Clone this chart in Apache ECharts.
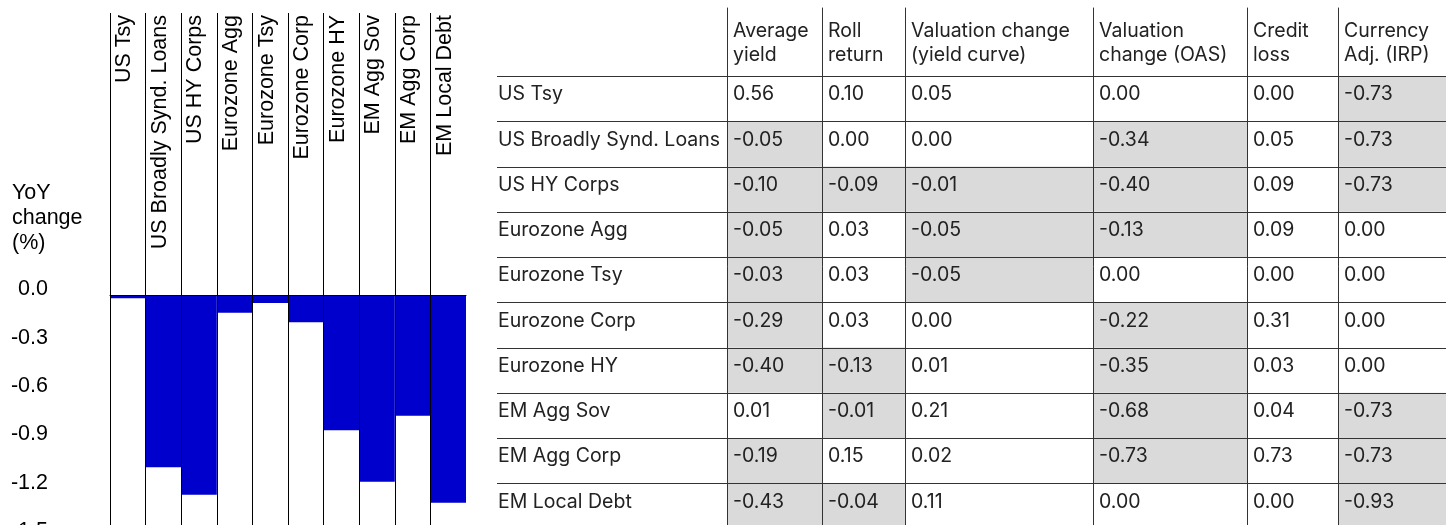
<!DOCTYPE html>
<html>
<head>
<meta charset="utf-8">
<title>YoY change by component</title>
<script src="https://cdn.jsdelivr.net/npm/echarts@6/dist/echarts.min.js"></script>
<style>
  html, body { margin: 0; padding: 0; background: #fff; }
  #chart { width: 1454px; height: 525px; }
</style>
</head>
<body>
<div id="chart"></div>
<script>
// Asset classes (bar columns and table rows)
const categories = ['US Tsy', 'US Broadly Synd. Loans', 'US HY Corps', 'Eurozone Agg', 'Eurozone Tsy',
    'Eurozone Corp', 'Eurozone HY', 'EM Agg Sov', 'EM Agg Corp', 'EM Local Debt'];

// YoY change (%) per asset class
const yoyChange = [-0.02, -1.07, -1.24, -0.11, -0.05, -0.17, -0.84, -1.16, -0.75, -1.29];

// Value axis range of the bar chart
const yMin = -1.5;
const yMax = 0;
const yStep = 0.3;

// Table columns
const columnHeaders = ['', 'Average\nyield', 'Roll\nreturn', 'Valuation change\n(yield curve)',
    'Valuation\nchange (OAS)', 'Credit\nloss', 'Currency\nAdj. (IRP)'];
const averageYield = [0.56, -0.05, -0.10, -0.05, -0.03, -0.29, -0.40, 0.01, -0.19, -0.43];
const rollReturn = [0.10, 0.00, -0.09, 0.03, 0.03, 0.03, -0.13, -0.01, 0.15, -0.04];
const valuationCurve = [0.05, 0.00, -0.01, -0.05, -0.05, 0.00, 0.01, 0.21, 0.02, 0.11];
const valuationOAS = [0.00, -0.34, -0.40, -0.13, 0.00, -0.22, -0.35, -0.68, -0.73, 0.00];
const creditLoss = [0.00, 0.05, 0.09, 0.09, 0.00, 0.31, 0.03, 0.04, 0.73, 0.00];
const currencyAdj = [-0.73, -0.73, -0.73, 0.00, 0.00, 0.00, 0.00, -0.73, -0.73, -0.93];
const tableColumns = [averageYield, rollReturn, valuationCurve, valuationOAS, creditLoss, currencyAdj];

// Layout
const chartLeft = 110;
const chartWidth = 356;
const labelTop = 13;
const zeroY = 295;
const pxPerUnit = 161;
const tableLeft = 497;
const tableTop = 8;
const tableHeaderH = 68;
const headerTextTop = 19;
const rowH = 45.25;
const colWidths = [230, 95, 83, 188, 154, 91, 108];

// Styles
const chartFont = '"Liberation Sans", Arial, sans-serif';
const chartFontSize = 21.5;
const tableFont = 'Inter, Roboto, sans-serif';
const tableFontSize = 19.5;
const tableText = '#222';
const tableLine = '#333';
const shadeColor = '#dadada';
const barColor = '#0000cd';

// one colour per column divider, the last (right edge) hidden
const dividerColors = categories.map(() => '#000').concat(['rgba(0,0,0,0)']);

const grids = [];
const xAxes = [];
const yAxes = [];
const series = [];

// Grid 0: rotated category labels above the zero line
grids.push({ left: chartLeft, top: labelTop, width: chartWidth, height: zeroY - labelTop, outerBoundsMode: 'none' });
xAxes.push({
    gridIndex: 0,
    type: 'category',
    data: categories,
    position: 'top',
    z: 3,
    axisLine: { show: false },
    axisTick: { show: false },
    axisLabel: {
        inside: true,
        rotate: 90,
        interval: 0,
        margin: 2,
        color: '#000',
        fontFamily: chartFont,
        fontSize: chartFontSize,
        // extra bottom padding nudges the rotated text a little to the left
        formatter: (v) => '{c|' + v + '}',
        rich: {
            c: {
                color: '#000',
                fontFamily: chartFont,
                fontSize: chartFontSize,
                padding: [0, 0, 7, 0]
            }
        }
    },
    splitLine: { show: true, interval: 0, showMaxLine: false, lineStyle: { color: dividerColors, width: 1 } }
});
yAxes.push({ gridIndex: 0, type: 'value', show: false, min: 0, max: 1 });

// Grid 1: the bars
grids.push({ left: chartLeft, top: zeroY, width: chartWidth, height: (yMax - yMin) * pxPerUnit, outerBoundsMode: 'none' });
xAxes.push({
    gridIndex: 1,
    type: 'category',
    data: categories,
    position: 'top',
    z: 3,
    axisLine: { show: true, onZero: false, lineStyle: { color: '#000', width: 1 } },
    axisTick: { show: false },
    axisLabel: { show: false, interval: 0 },
    splitLine: { show: true, interval: 0, showMaxLine: false, lineStyle: { color: dividerColors, width: 1 } }
});
yAxes.push({
    gridIndex: 1,
    type: 'value',
    min: yMin,
    max: yMax,
    interval: yStep,
    axisLine: { show: false },
    axisTick: { show: false },
    splitLine: { show: false },
    axisLabel: {
        margin: 62,
        verticalAlign: 'bottom',
        lineHeight: 11,
        color: '#000',
        fontFamily: chartFont,
        fontSize: chartFontSize,
        formatter: (v) => v.toFixed(1)
    }
});
series.push({
    type: 'bar',
    xAxisIndex: 1,
    yAxisIndex: 1,
    data: yoyChange,
    barWidth: '100%',
    itemStyle: { color: barColor },
    silent: true
});

// Table cell renderer for column j (0 = row labels)
const cellRenderer = (j) => (params, api) => {
    const row = api.value(1);
    const cs = params.coordSys;
    const yTop = api.coord([0, row])[1];
    const yBot = api.coord([0, row + 1])[1];
    const children = [];
    let text;
    if (j === 0) {
        text = categories[row];
    } else {
        const v = tableColumns[j - 1][row];
        text = v.toFixed(2);
        if (v < 0) {
            children.push({
                type: 'rect',
                shape: { x: cs.x, y: yTop, width: cs.width, height: yBot - yTop },
                style: { fill: shadeColor }
            });
        }
    }
    const lines = [yTop];
    if (row === categories.length - 1) lines.push(yBot);
    lines.forEach((y) => {
        const ly = Math.round(y) + 0.5;
        children.push({
            type: 'line',
            shape: { x1: cs.x, y1: ly, x2: cs.x + cs.width, y2: ly },
            style: { stroke: tableLine, lineWidth: 1 }
        });
    });
    children.push({
        type: 'text',
        x: cs.x + (j === 0 ? 1 : 6),
        y: (yTop + yBot) / 2 - 4,
        style: {
            text: text,
            fill: tableText,
            font: tableFontSize + 'px ' + tableFont,
            align: 'left',
            verticalAlign: 'middle'
        }
    });
    return { type: 'group', children: children };
};

// Table: one grid per column
let colX = tableLeft;
colWidths.forEach((w, j) => {
    const gi = grids.length;
    grids.push({ left: colX, top: tableTop, width: w, height: tableHeaderH + rowH * categories.length, outerBoundsMode: 'none' });
    xAxes.push({
        gridIndex: gi,
        type: 'category',
        data: [columnHeaders[j] || ' '],
        position: 'top',
        offset: tableTop - headerTextTop,
        axisLine: { show: false, onZero: false },
        axisTick: { show: false },
        axisLabel: { show: false },
        splitLine: { show: false },
        name: columnHeaders[j],
        nameLocation: 'start',
        nameGap: -6,
        nameTextStyle: {
            color: tableText,
            fontFamily: tableFont,
            fontSize: tableFontSize,
            lineHeight: 24,
            align: 'left',
            verticalAlign: 'top'
        }
    });
    yAxes.push({
        gridIndex: gi,
        type: 'value',
        inverse: true,
        min: -tableHeaderH / rowH,
        max: categories.length,
        z: 3,
        axisLine: { show: j > 0, onZero: false, lineStyle: { color: tableLine, width: 1 } },
        axisTick: { show: false },
        axisLabel: { show: false },
        splitLine: { show: false }
    });
    series.push({
        type: 'custom',
        xAxisIndex: gi,
        yAxisIndex: gi,
        data: categories.map((c, i) => [0, i]),
        encode: { x: 0, y: 1 },
        renderItem: cellRenderer(j),
        silent: true
    });
    colX += w;
});

const chart = echarts.init(document.getElementById('chart'));
chart.setOption({
    animation: false,
    backgroundColor: '#fff',
    title: {
        text: 'YoY\nchange\n(%)',
        left: 12,
        top: 180.5,
        padding: 0,
        textStyle: {
            color: '#000',
            fontFamily: chartFont,
            fontSize: chartFontSize,
            fontWeight: 'normal',
            lineHeight: 25
        }
    },
    grid: grids,
    xAxis: xAxes,
    yAxis: yAxes,
    series: series
});
</script>
</body>
</html>
